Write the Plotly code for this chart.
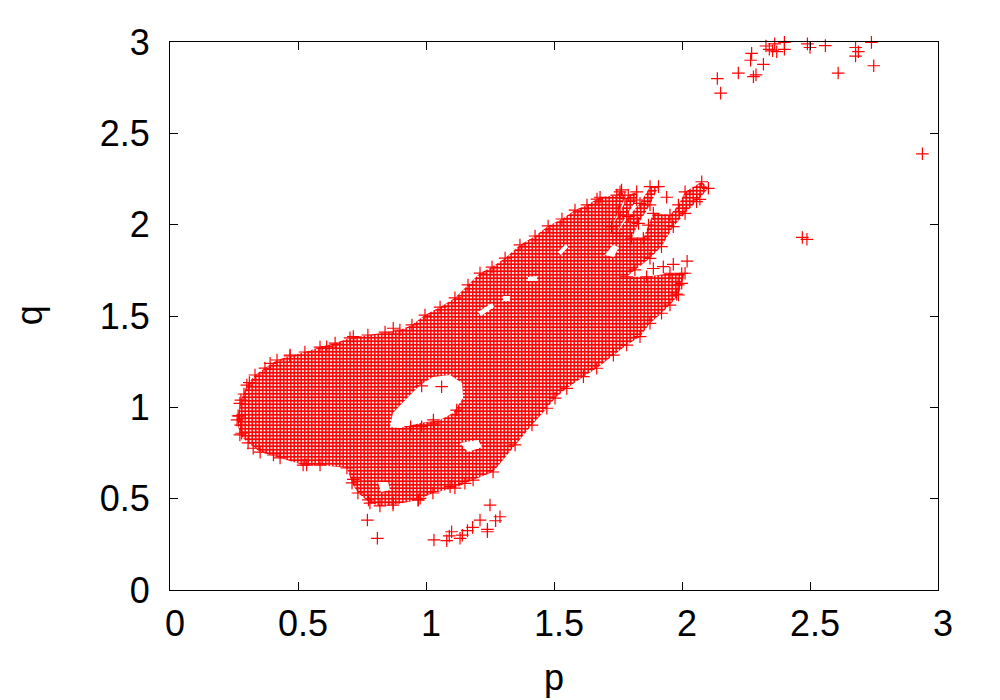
import plotly.graph_objects as go

# Values. The dense cloud is too dense to read point by point,
# so it is given as an outline (p, q) with holes, drawn as a "+" patterned area.
outer_p = [.266,.277,.30,.332,.371,.418,.469,.527,.586,.645,.703,.773,.84,.898,.945,.996,1.055,1.113,1.164,1.211,1.258,1.309,1.367,1.426,1.477,1.531,1.582,1.629,1.668,1.68,1.745,1.764,1.777,1.751,1.725,1.758,1.79,1.823,1.823,1.784,1.745,1.79,1.836,1.875,1.908,1.875,1.83,1.803,1.849,1.869,1.888,1.953,1.986,2.012,2.077,2.103,2.057,2.012,1.966,1.92,1.875,1.816,1.784,1.862,1.953,2.012,1.999,1.986,1.953,1.92,1.875,1.836,1.784,1.732,1.667,1.615,1.55,1.504,1.472,1.414,1.348,1.262,1.184,1.113,1.027,.969,.871,.82,.781,.734,.711,.691,.586,.52,.43,.352,.305,.273,.262]
outer_q = [.953,1.04,1.122,1.177,1.215,1.259,1.281,1.303,1.33,1.352,1.38,1.396,1.412,1.423,1.451,1.505,1.549,1.599,1.67,1.735,1.768,1.817,1.889,1.938,1.993,2.031,2.08,2.108,2.14,2.15,2.162,2.19,2.144,2.071,1.989,2.071,2.162,2.18,2.135,2.053,1.954,2.044,2.117,2.208,2.208,2.108,2.007,1.926,1.926,1.998,2.062,2.053,2.108,2.18,2.235,2.199,2.126,2.062,1.989,1.88,1.816,1.752,1.715,1.715,1.734,1.734,1.679,1.615,1.56,1.515,1.46,1.387,1.341,1.286,1.214,1.168,1.104,1.05,.995,.903,.794,.646,.602,.558,.531,.493,.465,.46,.476,.531,.586,.668,.684,.684,.723,.755,.805,.849,.931]

hole_big_p = [.859,.898,.977,1.055,1.105,1.145,1.141,1.094,1.027,.977,.926,.871]
hole_big_q = [.892,.887,.914,.931,.969,1.051,1.133,1.177,1.166,1.122,1.051,.969]
hole_a_p = [1.203,1.215,1.266,1.258]
hole_a_q = [1.522,1.5,1.549,1.571]
hole_b_p = [1.301,1.301,1.328,1.328]
hole_b_q = [1.609,1.582,1.582,1.609]
hole_c_p = [1.398,1.398,1.434,1.434]
hole_c_q = [1.713,1.692,1.692,1.719]
hole_d_p = [1.516,1.527,1.555,1.547]
hole_d_q = [1.85,1.834,1.878,1.894]
hole_e_p = [1.699,1.734,1.754,1.73]
hole_e_q = [1.834,1.823,1.878,1.889]
hole_f_p = [1.133,1.164,1.219,1.203]
hole_f_q = [.805,.755,.783,.821]
hole_g_p = [.8125,.824,.859,.852]
hole_g_q = [.591,.536,.547,.591]

stray_p = [2.138,2.151,2.22,2.272,2.268,2.279,2.289,2.318,2.328,2.341,2.362,2.354,2.37,2.40,2.40,2.49,2.50,2.56,2.61,2.678,2.689,2.678,2.74,2.749,2.939,2.47,2.488,
           .771,.81,1.031,1.081,1.091,1.10,1.133,1.142,1.162,1.182,1.211,1.24,1.24,1.25,1.272,1.289,.97,
           1.888,1.927,1.966,2.02,1.999,1.985,1.979,1.94,2.07,1.758,
           1.061,.983,.94,.983,1.029,1.029,1.12]
stray_q = [2.80,2.72,2.83,2.938,2.90,2.81,2.82,2.878,2.978,2.96,2.99,2.952,2.947,2.96,2.998,2.99,2.97,2.98,2.83,2.97,2.947,2.923,2.998,2.87,2.388,1.93,1.92,
           .383,.283,.274,.27,.296,.319,.283,.30,.325,.343,.383,.332,.319,.465,.379,.401,.493,
           1.76,1.77,1.783,1.80,1.733,1.67,1.62,2.15,2.139,2.18,
           1.113,1.117,.894,.894,.931,.909,.985]
edge_p = [.31,.289,.273,.271,.276,.28,.325,.404,.534,.716,.775,.872,.977,1.094,1.152,.391,.469,.612,.716,.872]
edge_q = [1.135,1.073,1.022,.953,.903,.858,.776,.739,.684,.606,.493,.478,.502,.566,.584,1.241,1.286,1.332,1.387,1.433]

tick_vals = [0, 0.5, 1, 1.5, 2, 2.5, 3]
tick_text = ["0", "0.5", "1", "1.5", "2", "2.5", "3"]

holes = [(hole_big_p, hole_big_q), (hole_a_p, hole_a_q), (hole_b_p, hole_b_q), (hole_c_p, hole_c_q),
         (hole_d_p, hole_d_q), (hole_e_p, hole_e_q), (hole_f_p, hole_f_q), (hole_g_p, hole_g_q)]
area_p = list(outer_p) + [outer_p[0]]
area_q = list(outer_q) + [outer_q[0]]
for hp, hq in holes:
    area_p += [None] + list(hp) + [hp[0]]
    area_q += [None] + list(hq) + [hq[0]]

fig = go.Figure()
fig.add_trace(go.Scatter(x=area_p, y=area_q, mode="lines", line=dict(width=0), fill="toself",
                         fillcolor="rgba(0,0,0,0)",
                         fillpattern=dict(shape="+", fgcolor="#ff0000", bgcolor="#ffffff",
                                          size=3.5, solidity=0.7, fgopacity=1),
                         hoverinfo="skip"))
marker = dict(symbol="cross-thin", size=9, color="#ff0000", line=dict(color="#ff0000", width=1.2))
fig.add_trace(go.Scatter(x=outer_p + stray_p + edge_p, y=outer_q + stray_q + edge_q, mode="markers",
                         marker=marker, cliponaxis=False))

font = dict(family="Liberation Sans, Arial, sans-serif", size=36, color="#000000")
common = dict(range=[0, 3], tickvals=tick_vals, ticktext=tick_text, ticks="inside", ticklen=8, tickwidth=1,
              tickcolor="#000000", showline=True, linecolor="#000000", linewidth=1, mirror="allticks",
              showgrid=False, zeroline=False, tickfont=font, automargin=False)
fig.update_layout(
    width=984, height=692, autosize=False, showlegend=False,
    paper_bgcolor="#ffffff", plot_bgcolor="#ffffff",
    margin=dict(l=162, r=54, t=34, b=110),
    xaxis=dict(ticklabelshift=5, ticklabelstandoff=2, **common),
    yaxis=dict(ticklabelstandoff=12, **common),
    annotations=[
        dict(text="p", x=0.5, y=-0.16, xref="paper", yref="paper", showarrow=False, font=font,
             xanchor="center", yanchor="middle"),
        dict(text="q", x=-0.182, y=0.502, xref="paper", yref="paper", showarrow=False, font=font,
             textangle=-90, xanchor="center", yanchor="middle"),
    ],
)
fig.write_html("out.html")
